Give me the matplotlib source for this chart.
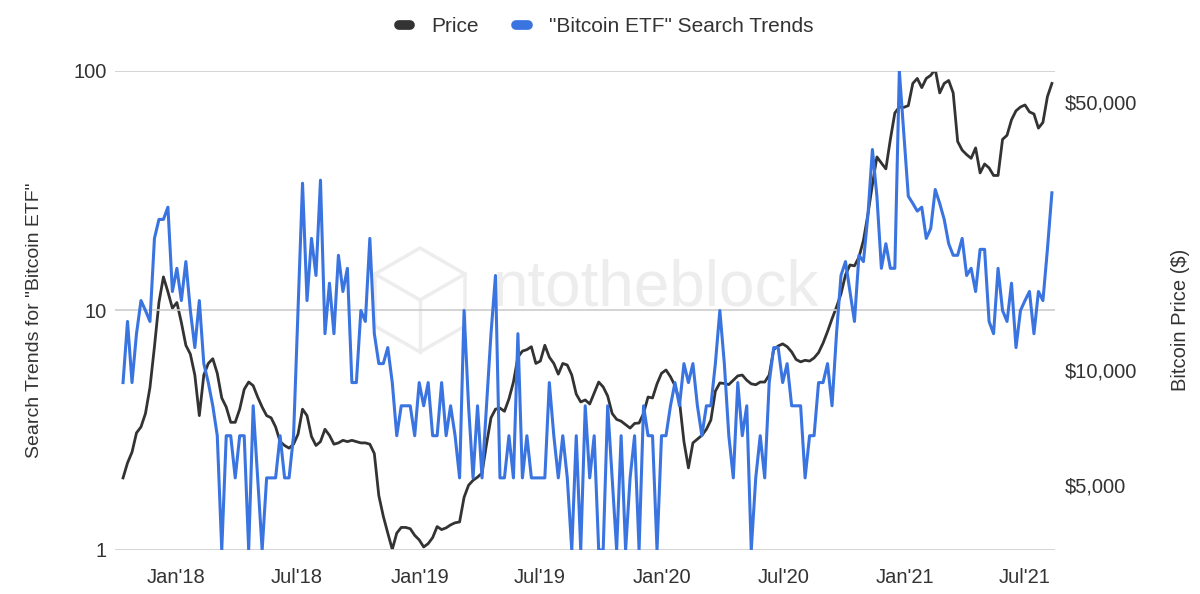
import matplotlib.pyplot as plt
from matplotlib.lines import Line2D
from matplotlib.patches import RegularPolygon
from matplotlib.transforms import IdentityTransform
from matplotlib.ticker import FixedLocator, FixedFormatter, NullLocator
import numpy as np

plt.rcParams["font.family"] = ["Liberation Sans", "DejaVu Sans"]

# ============================================================
# Data (weekly)
# ============================================================

search_trends = [
    5, 9, 5, 8, 11, 10, 9, 20, 24, 24, 27, 12, 15, 11, 16, 10, 7, 11, 6, 5,
    4, 3, 1, 3, 3, 2, 3, 3, 1, 4, 2, 1, 2, 2,
    2, 3, 2, 2, 3, 10, 34, 11, 20, 14, 35, 8, 13, 8, 17, 12, 15, 5, 5, 10,
    9, 20, 8, 6, 6, 7, 5, 3, 4, 4, 4, 3, 5, 4,
    5, 3, 3, 5, 3, 4, 3, 2, 10, 4, 2, 4, 2, 4, 8, 14, 2, 2, 3, 2,
    8, 2, 3, 2, 2, 2, 2, 5, 3, 2, 3, 2, 1, 3, 1, 4,
    2, 3, 1, 1, 4, 2, 1, 3, 1, 2, 3, 1, 4, 3, 3, 1, 3, 3, 4, 5,
    4, 6, 5, 6, 4, 3, 4, 4, 6, 10, 6,
    3, 2, 5, 3, 4, 1, 2, 3, 2, 5, 7, 7, 5, 6, 4, 4, 4, 2, 3, 3,
    5, 5, 6, 4, 8, 14, 16, 12, 9, 17, 16, 25, 47, 30, 15, 19, 15, 15,
    100, 55, 30, 28, 26, 27, 20, 22, 32, 28, 24, 19, 17, 17, 20, 14, 15, 12,
    18, 18, 9, 8, 15, 10, 9, 13, 7, 10, 11, 12, 8, 12, 11, 18, 31,
]

btc_price = [
    5225, 5720, 6100, 6850, 7100, 7700, 9000, 11500, 15000, 17500,
    16000, 14500, 15000, 13300, 11600, 11000, 9700, 7600, 9700, 10400,
    10700, 9800, 8450, 8000, 7300, 7300, 7900, 8900, 9300, 9100,
    8500, 8000, 7600, 7500, 7100, 6500, 6350, 6250, 6400, 6800,
    7900, 7600, 6700, 6350, 6500, 7000, 6750, 6400, 6450, 6550,
    6500, 6550, 6500, 6450, 6450, 6400, 6050, 4700, 4150, 3750,
    3400, 3750, 3880, 3880, 3850, 3700, 3600, 3450, 3520, 3650,
    3900, 3830, 3870, 3940, 3990, 4010, 4650, 5000, 5150, 5250,
    5380, 6400, 7500, 7900, 7950, 7800, 8400, 9300, 10800, 11200,
    11300, 11500, 10400, 10550, 11600, 10800, 10400, 9750, 10400, 10300,
    9700, 8650, 8250, 8350, 8150, 8700, 9300, 9030, 8550, 7700,
    7430, 7350, 7200, 7050, 7250, 7270, 7700, 8500, 8450, 9200,
    9800, 10000, 9600, 9100, 8300, 6500, 5550, 6450, 6600, 6750,
    7000, 7400, 8800, 9250, 9220, 9160, 9400, 9650, 9700, 9400,
    9200, 9150, 9300, 9300, 9700, 11300, 11550, 11700, 11500, 11150,
    10650, 10500, 10600, 10550, 10750, 11100, 11750, 12600, 13600, 14600,
    15800, 17700, 18800, 18700, 19700, 21800, 25500, 30500, 36000, 34700,
    33500, 40000, 46900, 48600, 48500, 49000, 56000, 57700, 54600, 57700,
    58800, 61000, 52900, 56000, 57000, 52900, 39500, 37500, 36500, 35700,
    38000, 32700, 34500, 33700, 32200, 32200, 40000, 41000, 45000, 47500,
    48600, 49200, 47200, 46600, 42800, 44300, 51700, 56000,
]

tick_weeks = [11.8, 38.8, 66.2, 92.9, 120.1, 147.3, 174.3, 201.0]
tick_labels = ["Jan'18", "Jul'18", "Jan'19", "Jul'19",
               "Jan'20", "Jul'20", "Jan'21", "Jul'21"]

search_ticks = [1, 10, 100]
price_ticks = [5000, 10000, 50000]
price_labels = ["$5,000", "$10,000", "$50,000"]

weeks = np.arange(len(search_trends))

PRICE_COLOR = "#333333"
SEARCH_COLOR = "#3a74e0"
TEXT_COLOR = "#333333"
MARK_COLOR = "#ededed"


# ============================================================
# Figure
# ============================================================

fig = plt.figure(figsize=(12, 5.94), dpi=100)

ax = fig.add_axes([0.0958, 0.0741, 0.7834, 0.8064])
ax2 = ax.twinx()

ax.set_zorder(ax2.get_zorder() + 1)
ax.patch.set_visible(False)

# price (right axis, drawn underneath)
ax2.plot(weeks, btc_price, color=PRICE_COLOR, lw=2.0,
         solid_joinstyle="round", zorder=3)

# search trends (left axis, on top)
ax.plot(weeks, search_trends, color=SEARCH_COLOR, lw=2.2,
        solid_joinstyle="round", zorder=3)

# watermark (logo + name), in pixel space
ax2.text(0.575, 0.545, "ntotheblock", transform=ax2.transAxes,
         fontsize=46, color=MARK_COLOR, ha="center", va="center",
         zorder=0)

logo = RegularPolygon((420, 294), numVertices=6, radius=52,
                      transform=IdentityTransform(), fill=False,
                      ec=MARK_COLOR, lw=2.5, zorder=0)
ax2.add_artist(logo)
for dx, dy in [(0, -52), (-45, 26), (45, 26)]:
    ax2.add_artist(Line2D([420, 420 + dx], [294, 294 + dy],
                          transform=IdentityTransform(),
                          color=MARK_COLOR, lw=2.5, zorder=0))

# left axis
ax.set_yscale("log")
ax.set_ylim(1, 100)
ax.yaxis.set_major_locator(FixedLocator(search_ticks))
ax.yaxis.set_major_formatter(FixedFormatter([str(t) for t in search_ticks]))
ax.yaxis.set_minor_locator(NullLocator())
ax.grid(axis="y", color="#cccccc", lw=1.2)
ax.set_xlim(-1.8, 207.7)
ax.set_xticks(tick_weeks)
ax.set_xticklabels(tick_labels)

# right axis
ax2.set_yscale("log")
ax2.set_ylim(3388, 60350)
ax2.yaxis.set_major_locator(FixedLocator(price_ticks))
ax2.yaxis.set_major_formatter(FixedFormatter(price_labels))
ax2.yaxis.set_minor_locator(NullLocator())

for a in (ax, ax2):
    for s in a.spines.values():
        s.set_visible(False)
    a.tick_params(axis="both", length=0, labelsize=14.5, colors=TEXT_COLOR)

ax.tick_params(axis="x", pad=13)
ax.tick_params(axis="y", pad=6)
ax2.tick_params(axis="y", pad=7)

fig.text(35 / 1200, 1 - 320 / 594, 'Search Trends for "Bitcoin ETF"',
         rotation=90, ha="center", va="center", fontsize=14,
         color=TEXT_COLOR)

fig.text(1180 / 1200, 1 - 320 / 594, "Bitcoin Price ($)",
         rotation=90, ha="center", va="center", fontsize=14.5,
         color=TEXT_COLOR)

handles = [
    Line2D([], [], color=PRICE_COLOR, lw=7, solid_capstyle="round"),
    Line2D([], [], color=SEARCH_COLOR, lw=7, solid_capstyle="round"),
]

fig.legend(
    handles,
    ["Price", '"Bitcoin ETF" Search Trends'],
    loc="center",
    bbox_to_anchor=(0.505, 1 - 27 / 594),
    ncol=2,
    frameon=False,
    handlelength=0.55,
    handletextpad=1.0,
    columnspacing=1.8,
    fontsize=15,
    labelcolor=TEXT_COLOR,
)

fig.savefig("out.png", dpi=100, facecolor="white")
